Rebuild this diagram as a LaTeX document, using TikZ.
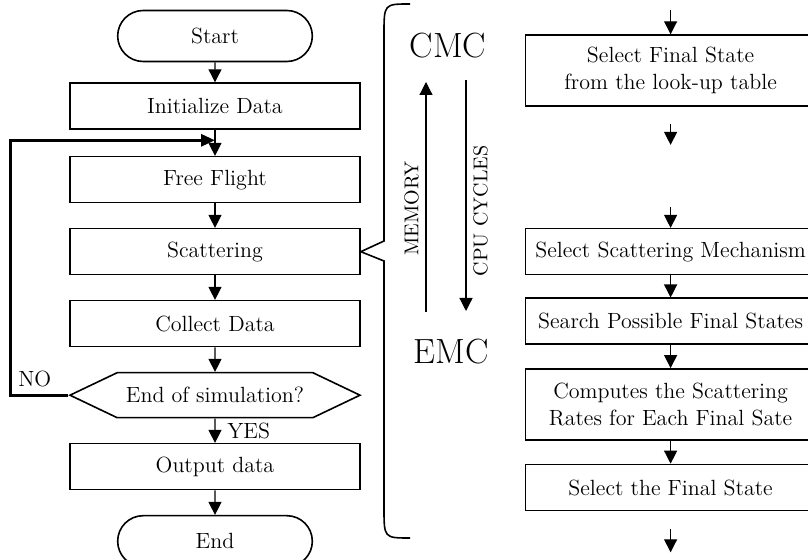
\documentclass[tikz,border=0pt]{standalone}
\usepackage{tikz}
\usetikzlibrary{arrows.meta, positioning, calc, shapes.misc, shapes.symbols}

\begin{document}
\begin{tikzpicture}[
    x=0.5pt, y=-0.5pt,
    node distance=12.2pt,
    every node/.style={font=\fontsize{11}{13.6}\selectfont},
    process/.style={draw, line width=0.8pt, minimum width=145pt, minimum height=23pt, align=center, inner sep=2pt},
    tall/.style={minimum height=35.5pt},
    terminal/.style={draw, line width=0.8pt, rounded rectangle, minimum width=104pt, minimum height=25.5pt},
    decision/.style={draw, line width=0.8pt, signal, signal to=west and east, signal pointer angle=51, minimum width=145pt, minimum height=22.5pt, inner xsep=0pt},
    arrow/.style={-{Triangle[length=6.5pt, width=6.5pt]}, line width=0.6pt},
    looparrow/.style={-{Triangle[length=7pt, width=6pt]}, line width=1.5pt},
    method/.style={font=\fontsize{17.5}{20}\selectfont},
    side/.style={font=\fontsize{10}{12}\selectfont}
]
    \useasboundingbox (0,0) rectangle (808,560);

    % Main loop
    \node[terminal] (start) at (215,36) {Start};
    \node[process, below=10pt of start] (init) {Initialize Data};
    \node[process, below=13pt of init] (free) {Free Flight};
    \node[process, below=of free] (scat) {Scattering};
    \node[process, below=of scat] (collect) {Collect Data};
    \node[decision, below=of collect] (sim) {End of simulation?};
    \node[process, below=of sim] (output) {Output data};
    \node[terminal, below=of output] (end) {End};

    \coordinate (loopin) at ($(init.south)!0.4!(free.north)$);

    \draw[arrow] (start) -- (init);
    \draw[arrow] (init) -- (free);
    \draw[arrow] (free) -- (scat);
    \draw[arrow] (scat) -- (collect);
    \draw[arrow] (collect) -- (sim);
    \draw[arrow] (sim) -- (output) node[midway, right=2.5pt] {YES};
    \draw[arrow] (output) -- (end);
    \draw[looparrow] (sim.west) -- ++(-29pt,0pt) node[above right] {NO} |- (loopin);

    % Scattering detail
    \node[process, right=82pt of scat] (ssm) {Select Scattering Mechanism};
    \node[process, tall, above=60.5pt of ssm] (fsl) {Select Final State\\from the look-up table};
    \node[process, below=11pt of ssm] (search) {Search Possible Final States};
    \node[process, tall, below=11.5pt of search] (rates) {Computes the Scattering\\Rates for Each Final Sate};
    \node[process, below=11.5pt of rates] (pick) {Select the Final State};

    \coordinate (fslin) at ($(fsl.north)+(0,12pt)$);
    \coordinate (fslout1) at ($(fsl.south)+(0,-8.5pt)$);
    \coordinate (fslout2) at ($(fsl.south)+(0,-19pt)$);
    \coordinate (ssmin) at ($(ssm.north)+(0,10.5pt)$);
    \coordinate (pickout1) at ($(pick.south)+(0,-9pt)$);
    \coordinate (pickout2) at ($(pick.south)+(0,-20.5pt)$);

    \draw[arrow] (fslin) -- (fsl);
    \draw[arrow] (fslout1) -- (fslout2);
    \draw[arrow] (ssmin) -- (ssm);
    \draw[arrow] (ssm) -- (search);
    \draw[arrow] (search) -- (rates);
    \draw[arrow] (rates) -- (pick);
    \draw[arrow] (pickout1) -- (pickout2);

    % Brace and trade-off
    \draw[line width=0.8pt] (410,4) .. controls (384,4) .. (384,34) -- (384,241)
        -- (scat.east) -- (384,261) -- (384,508) .. controls (384,538) .. (410,538);

    \node[method] (cmc) at (448,46) {CMC};
    \node[method] (emc) at (451,352) {EMC};

    \coordinate (memlo) at (426,312);
    \coordinate (memhi) at (426,82);
    \coordinate (cpuhi) at (466,80);
    \coordinate (cpulo) at (466,311);

    \draw[arrow] (memlo) -- (memhi) node[side, pos=0.45, sloped, above] {MEMORY};
    \draw[arrow] (cpuhi) -- (cpulo) node[side, pos=0.567, anchor=north, rotate=90] {CPU CYCLES};
\end{tikzpicture}
\end{document}
